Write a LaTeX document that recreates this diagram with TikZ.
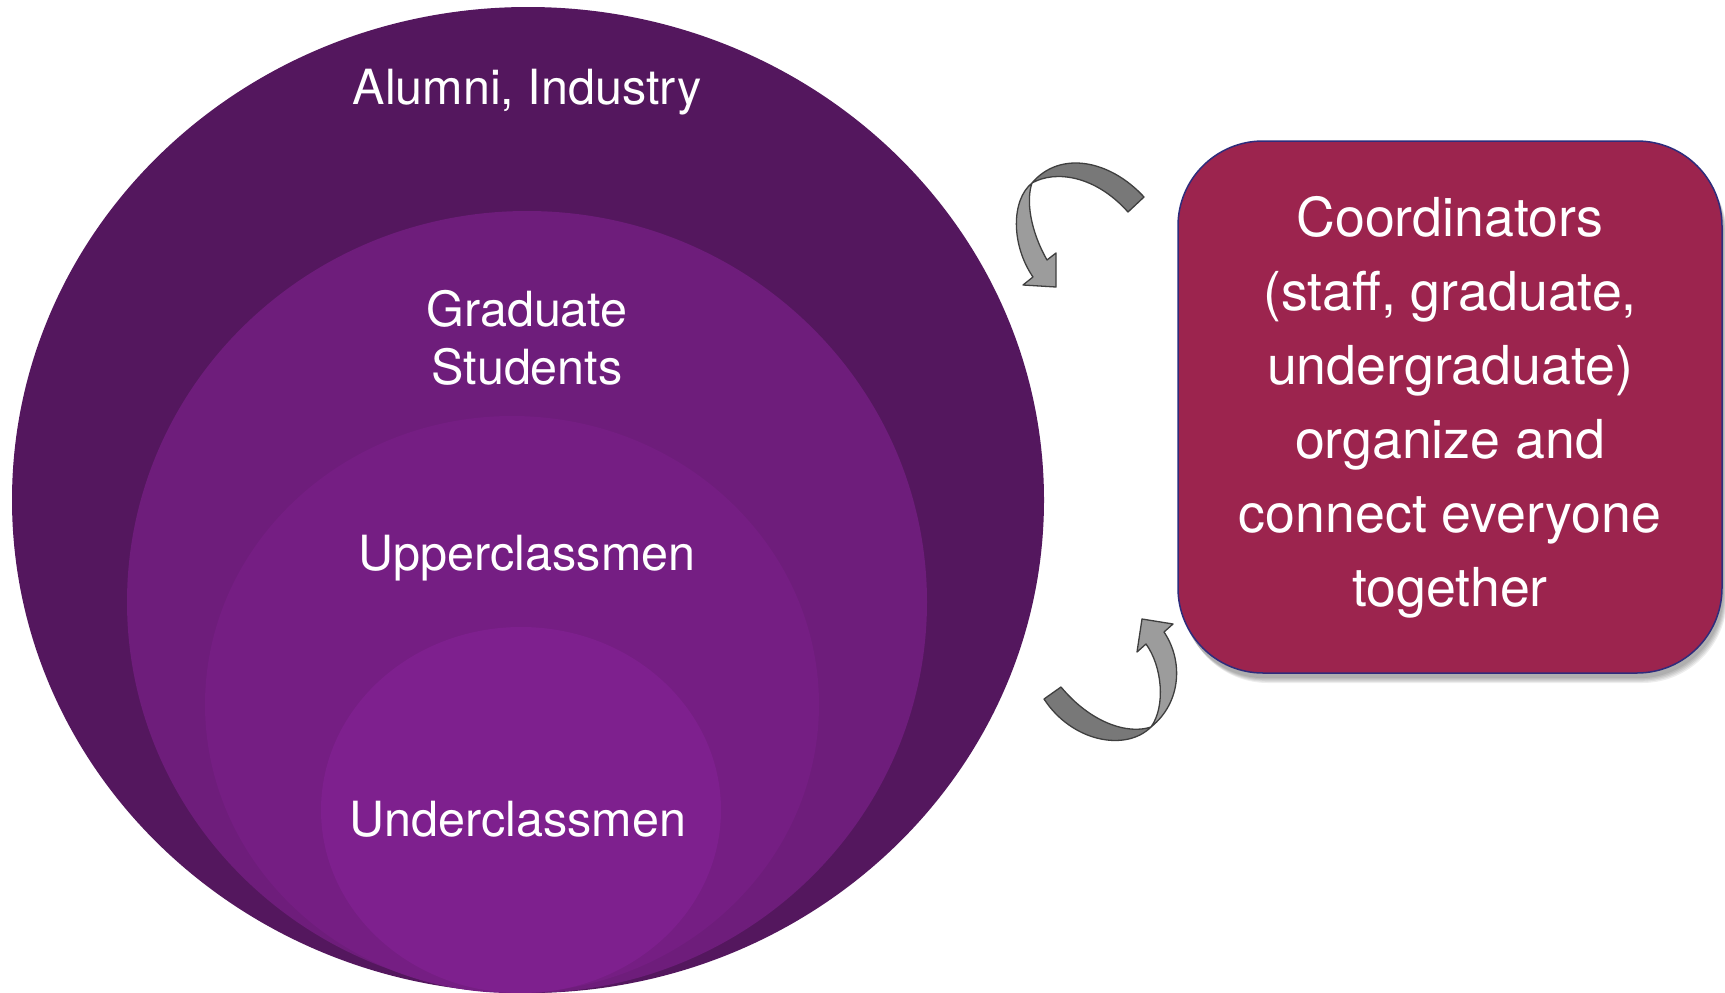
\documentclass[tikz,border=0pt]{standalone}
\usepackage{fontspec}
\setmainfont{TeX Gyre Heros}
\usetikzlibrary{shapes.geometric}
\definecolor{outerC}{HTML}{54175E}
\definecolor{gradC}{HTML}{6E1D7B}
\definecolor{upperC}{HTML}{751E83}
\definecolor{underC}{HTML}{7E208E}
\definecolor{boxC}{HTML}{9C244E}
\definecolor{boxEdge}{HTML}{2E2C7C}
\definecolor{arrDark}{HTML}{787878}
\definecolor{arrLight}{HTML}{9C9C9C}
\definecolor{arrEdge}{HTML}{3F3F3F}
\begin{document}
\begin{tikzpicture}[x=1pt,y=-1pt,
  ring/.style={ellipse, inner sep=0pt, draw=none},
  circtext/.style={text=white, font=\fontsize{48.5}{58}\selectfont, align=center, inner sep=0pt},
  boxtext/.style={text=white, font=\fontsize{53.7}{74}\selectfont, align=center, inner sep=0pt},
  coordbox/.style={rounded corners=85pt, draw=boxEdge, line width=1.5pt, fill=boxC, inner sep=0pt},
  ribbondark/.style={fill=arrDark, draw=arrEdge, line width=1.3pt, line join=round},
  ribbonlight/.style={fill=arrLight, draw=arrEdge, line width=1.3pt, line join=round}
]
\useasboundingbox (0,0) rectangle (1725,993);
\fill[white] (0,0) rectangle (1725,993);

% nested circles
\node[ring, fill=outerC, minimum width=1032pt, minimum height=986pt] (alumni) at (528,500) {};
\node[ring, fill=gradC, minimum width=800pt, minimum height=782pt] (grad) at (527,602) {};
\node[ring, fill=upperC, minimum width=614pt, minimum height=577pt] (upper) at (512,704.5) {};
\node[ring, fill=underC, minimum width=400pt, minimum height=366pt] (under) at (521,810) {};

\node[circtext, anchor=base] (talumni) at (527,104) {Alumni, Industry};
\node[circtext] (tgrad) at (527,338) {Graduate\\Students};
\node[circtext, anchor=base] (tupper) at (527,570) {Upperclassmen};
\node[circtext, anchor=base] (tunder) at (518,836) {Underclassmen};

% shadow of the coordinator box
\foreach \i in {1,...,5}{
  \fill[black, opacity=0.07, rounded corners=85pt]
    (1178+1+\i*0.8,141+4+\i*1.2) rectangle (1722+1+\i*0.8,673+4+\i*1.2);
}
\node[coordbox, minimum width=544pt, minimum height=532pt] (coord) at (1450,407) {};
\node[boxtext] (tcoord) at (coord.center) {Coordinators\\(staff, graduate,\\undergraduate)\\organize and\\connect everyone\\together};

% upper curved arrow (from box toward circles)
\coordinate (tw1) at (1032,183);
\path[ribbondark] (1128,212) -- (1144,197)
  .. controls (1110,160) and (1060,150) .. (tw1)
  .. controls (1055,170) and (1095,175) .. cycle;
\path[ribbonlight] (tw1) .. controls (1011,200) and (1011,245) .. (1033,277)
  -- (1023,285) -- (1056,287) -- (1056,253) -- (1047,260)
  .. controls (1030,230) and (1026,200) .. cycle;

% lower curved arrow (from circles toward box)
\coordinate (tw2) at (1151,727);
\path[ribbondark] (1044,699) -- (1061,687)
  .. controls (1090,722) and (1127,735) .. (tw2)
  .. controls (1126,752) and (1072,742) .. cycle;
\path[ribbonlight] (tw2) .. controls (1182,702) and (1183,660) .. (1164,632)
  -- (1173,624) -- (1142,619) -- (1137,652) -- (1146,644)
  .. controls (1162,666) and (1166,706) .. cycle;
\end{tikzpicture}
\end{document}
